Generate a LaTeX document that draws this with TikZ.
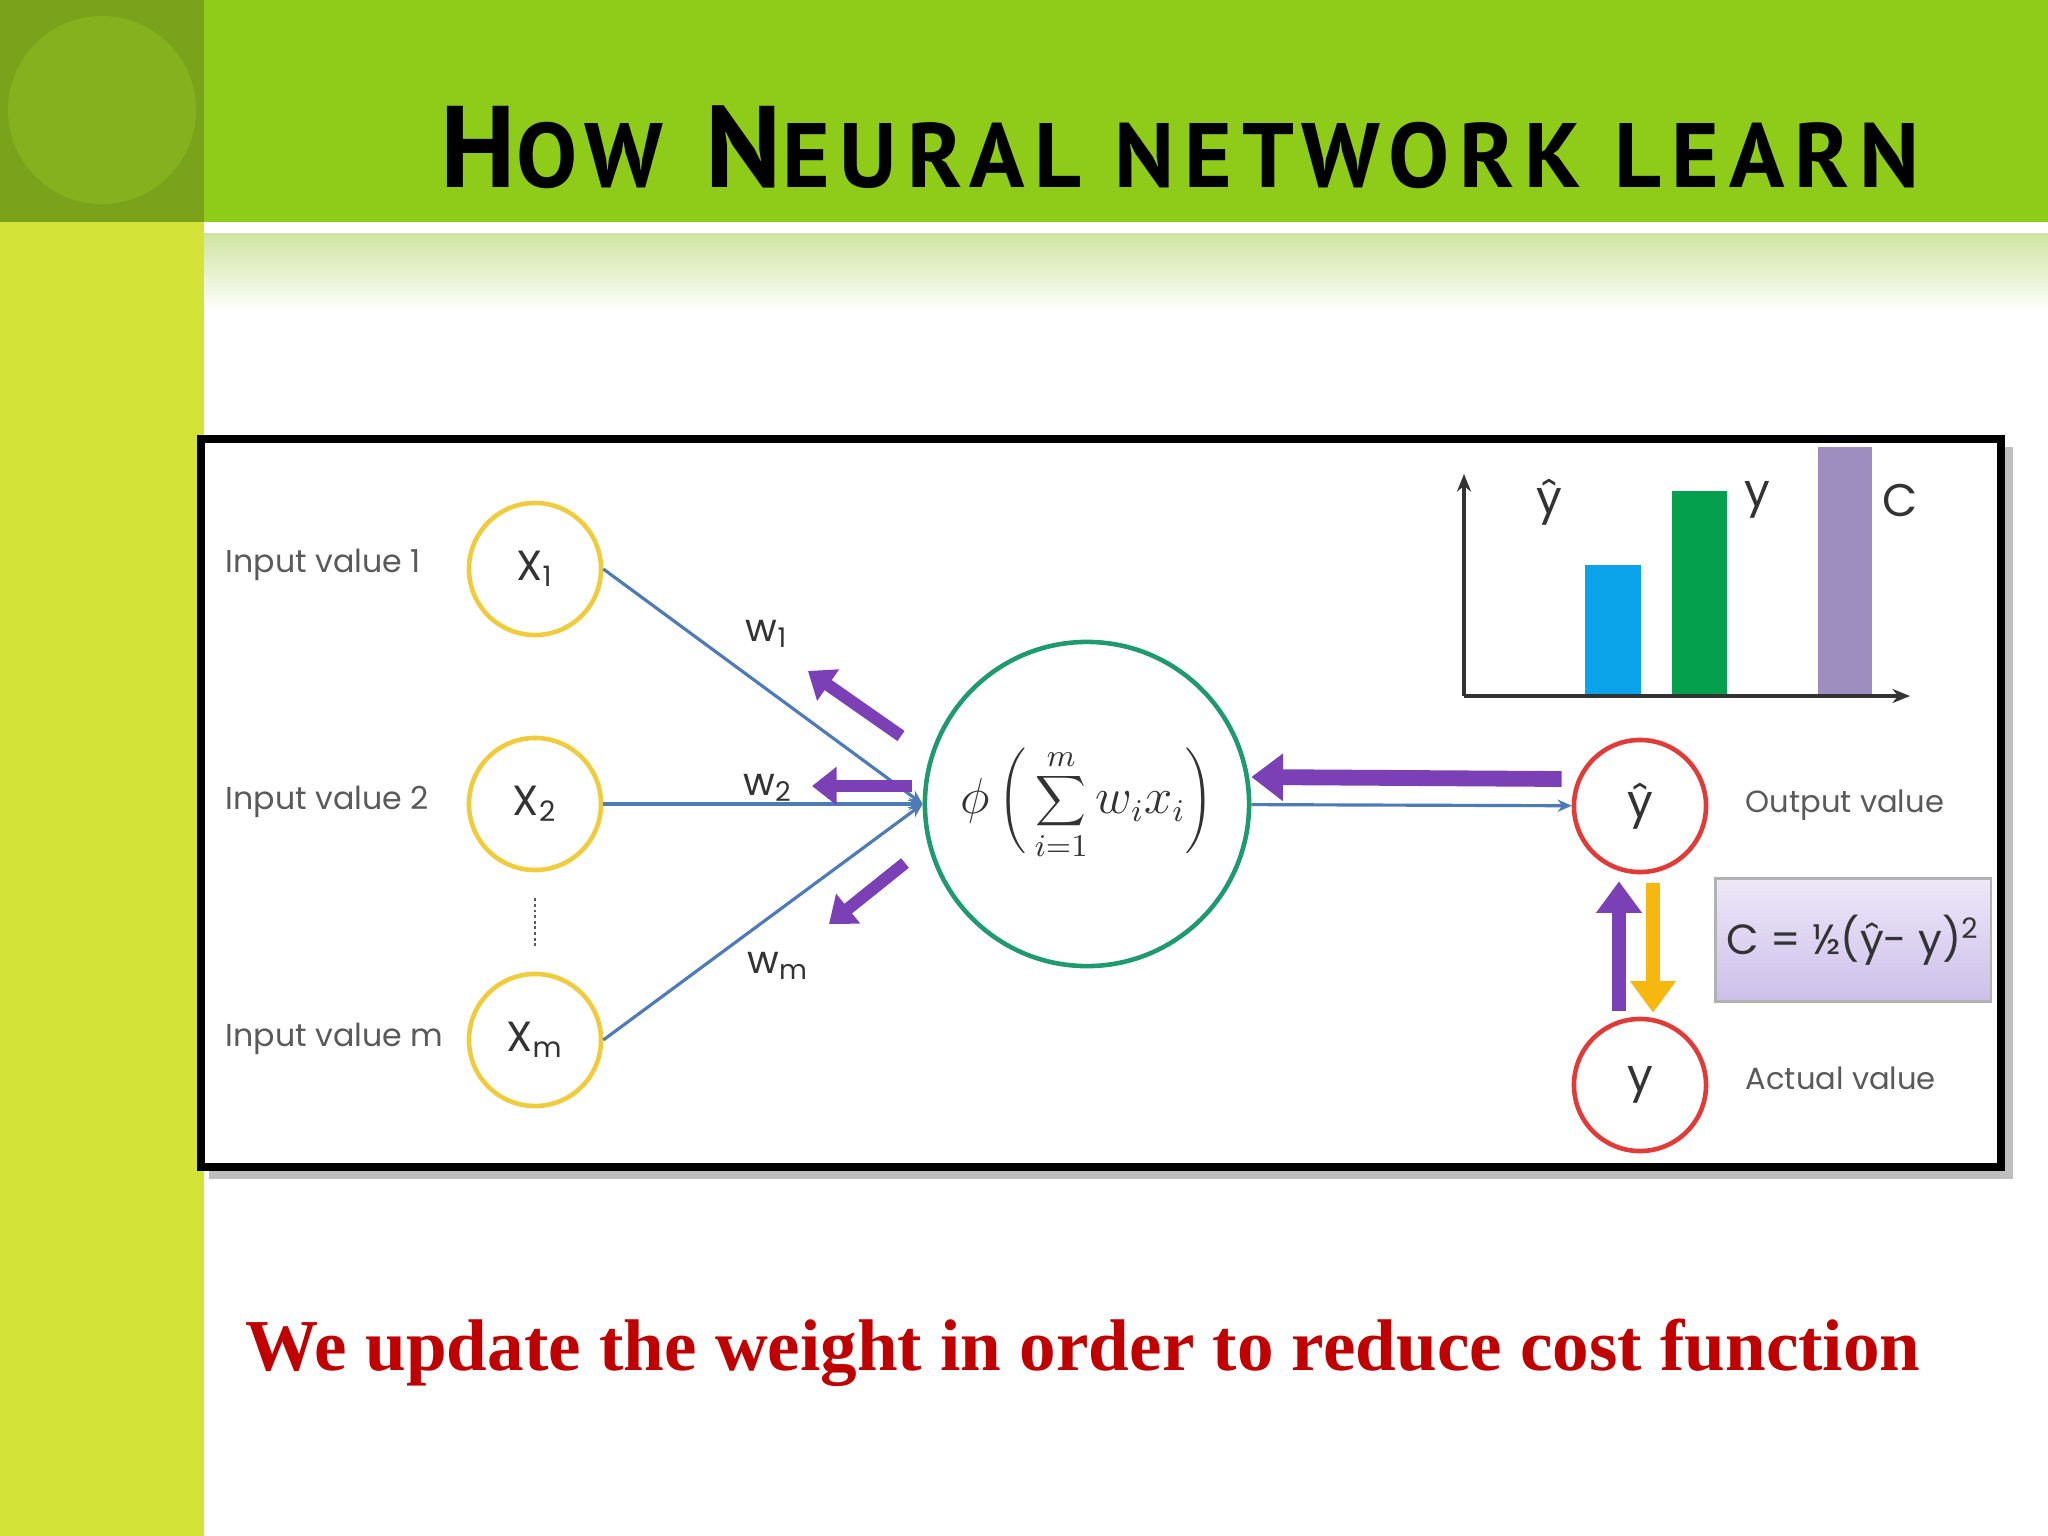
\documentclass[tikz,border=0pt]{standalone}
\usepackage{fontspec}
\setmainfont{Poppins}
\newfontfamily\titlefont[LetterSpace=11]{PT Sans}
\newfontfamily\notefont{Liberation Serif}
\usetikzlibrary{arrows.meta,calc}

\definecolor{topbar}{HTML}{8FCB19}
\definecolor{cornerbar}{HTML}{7BA21B}
\definecolor{cornerdisc}{HTML}{86B11E}
\definecolor{sidebar}{HTML}{D3E338}
\definecolor{fadegreen}{HTML}{CFE4A0}
\definecolor{ringyellow}{HTML}{F0CC3C}
\definecolor{ringred}{HTML}{E23A36}
\definecolor{ringgreen}{HTML}{1F9A6E}
\definecolor{wireblue}{HTML}{4C7BB8}
\definecolor{backpurple}{HTML}{7B3FB6}
\definecolor{costorange}{HTML}{F6B80E}
\definecolor{labelgrey}{HTML}{5A5A5A}
\definecolor{textdark}{HTML}{333333}
\definecolor{barblue}{HTML}{0BA3EA}
\definecolor{bargreen}{HTML}{05A04E}
\definecolor{barlilac}{HTML}{9E8EC0}
\definecolor{costtop}{HTML}{EEE8F8}
\definecolor{costbot}{HTML}{CCBFEA}
\definecolor{noteRed}{HTML}{C00000}

\newcommand{\tsc}[1]{{\fontsize{26}{26}\selectfont #1}}

\begin{document}
\begin{tikzpicture}[x=0.01cm,y=-0.01cm,
    inval/.style={anchor=west,inner sep=0pt,text=labelgrey,font=\fontsize{9}{9}\selectfont},
    outval/.style={anchor=west,inner sep=0pt,text=labelgrey,font=\fontsize{8.7}{8.7}\selectfont},
    xin/.style={circle,draw=ringyellow,line width=1.3pt,fill=white,minimum size=1.32cm,inner sep=0pt,text=textdark,font=\fontsize{12}{12}\selectfont},
    yout/.style={circle,draw=ringred,line width=1.3pt,fill=white,minimum size=1.32cm,inner sep=0pt,text=textdark,font=\fontsize{13}{13}\selectfont},
    wlabel/.style={text=textdark,font=\fontsize{11}{11}\selectfont},
    wire/.style={draw=wireblue,line width=0.9pt,-{Stealth[length=4pt,width=3.5pt]}},
    backarrow/.style={draw=backpurple,line width=3.5pt,-{Triangle[length=7pt,width=10.5pt]}},
    barlabel/.style={text=textdark,font=\fontsize{13}{13}\selectfont}
]
\useasboundingbox (0,0) rectangle (2048,1536);

% slide background
\fill[white] (0,0) rectangle (2048,1536);
\fill[topbar] (204,0) rectangle (2048,222);
\fill[cornerbar] (0,0) rectangle (204,222);
\fill[cornerdisc] (102,110) circle (94);
\fill[sidebar] (0,222) rectangle (204,1536);
\shade[top color=fadegreen,bottom color=white] (204,233) rectangle (2048,312);

\node[anchor=base west,inner sep=0pt,text=black,font=\titlefont\bfseries] (title) at (440,187)
    {\fontsize{33}{33}\selectfont H\tsc{OW} N\tsc{EURAL NETWORK LEARN}};

% framed figure
\fill[black!25] (209,447) rectangle (2013,1179);
\draw[line width=2.3pt,fill=white] (201,439) rectangle (2001,1167);

% inputs
\node[xin] (x1) at (535,569) {X\textsubscript{1}};
\node[xin] (x2) at (535,804) {X\textsubscript{2}};
\node[xin] (xm) at (535,1040) {X\textsubscript{m}};
\draw[labelgrey,line width=0.6pt,dash pattern=on 0.8pt off 0.8pt] (x2.south) ++(0,26) coordinate (dotA) -- ($(xm.north)+(0,-26)$) coordinate (dotB);

\node[inval] (in1) at (225,565) {Input value 1};
\node[inval] (in2) at (225,802) {Input value 2};
\node[inval] (inm) at (225,1039) {Input value m};

% neuron
\node[circle,draw=ringgreen,line width=1.3pt,fill=white,minimum size=3.24cm,inner sep=0pt,text=textdark] (neuron) at (1087,804)
    {\fontsize{13.5}{15}\selectfont$\displaystyle\phi\left(\,\sum_{i=1}^{m} w_i x_i\right)$};

\draw[wire] (x1.east) -- (neuron.west);
\draw[wire] (x2) -- (neuron.west);
\draw[wire] (xm.east) -- (neuron.west);

\node[wlabel] (w1) at (767,634) {w\textsubscript{1}};
\node[wlabel] (w2) at (768,788) {w\textsubscript{2}};
\node[wlabel] (wm) at (778,966) {w\textsubscript{m}};

% outputs
\node[yout] (yhat) at (1640,806) {ŷ};
\node[yout] (yact) at (1640,1085) {y};
\draw[wire] (neuron) -- (yhat);

\node[outval] (outtxt) at (1745,805) {Output value};
\node[outval] (acttxt) at (1745,1078) {Actual value};

\node[draw=black!30,line width=0.8pt,top color=costtop,bottom color=costbot,minimum width=2.73cm,minimum height=1.23cm,
      text=textdark,font=\fontsize{12}{12}\selectfont] (cost) at (1853,940) {C = ½(ŷ- y)\textsuperscript{2}};

% backpropagation arrows
\coordinate (b1s) at (901,736);  \coordinate (b1e) at (808,671);
\coordinate (b2s) at (912,786);  \coordinate (b2e) at (812,786);
\coordinate (b3s) at (905,863);  \coordinate (b3e) at (829,924);
\draw[backarrow] (b1s) -- (b1e);
\draw[backarrow] (b2s) -- (b2e);
\draw[backarrow] (b3s) -- (b3e);
\draw[draw=backpurple,line width=4.5pt,-{Triangle[length=9pt,width=13pt]}] ($(yhat.west)+(-10,-27)$) -- ($(neuron.east)+(0,-27)$);
\draw[draw=backpurple,line width=4.2pt,-{Triangle[length=9pt,width=12.5pt]}] ($(yact.north)+(-21,-6)$) -- ($(yhat.south)+(-21,7)$);
\draw[draw=costorange,line width=4.2pt,-{Triangle[length=9pt,width=12.5pt]}] ($(yhat.south)+(13,9)$) -- ($(yact.north)+(13,-4)$);

% bar chart
\fill[barblue] (1585,565) rectangle (1641,696);
\fill[bargreen] (1672,491) rectangle (1727,696);
\fill[barlilac] (1818,447) rectangle (1872,696);
\draw[textdark,line width=1.1pt,-{Stealth[length=5pt,width=4pt]}] (1464,696) -- (1464,474);
\draw[textdark,line width=1.1pt,-{Stealth[length=5pt,width=4pt]}] (1464,696) -- (1910,696);
\node[barlabel] (lyhat) at (1549,502) {ŷ};
\node[barlabel] (ly) at (1757,500) {y};
\node[barlabel] (lc) at (1900,500) {C};

% note
\node[anchor=base west,inner sep=0pt,text=noteRed,font=\notefont\bfseries\fontsize{20.8}{20.8}\selectfont] (note) at (245,1370)
    {We update the weight in order to reduce cost function};
\end{tikzpicture}
\end{document}
